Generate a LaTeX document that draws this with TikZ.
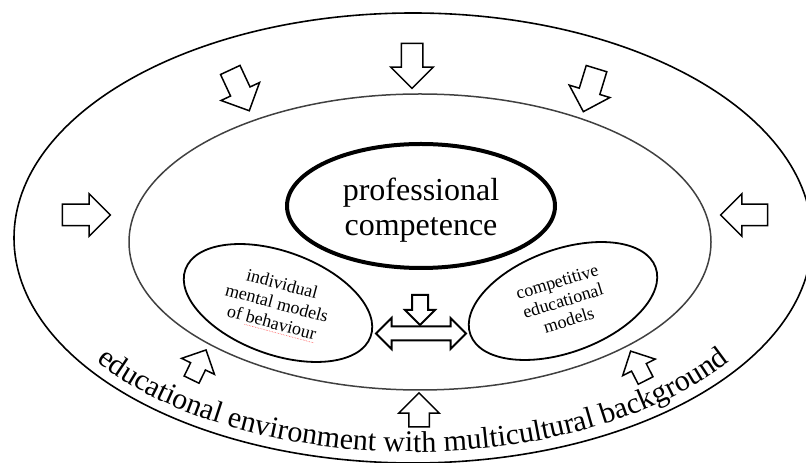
\documentclass[tikz,border=0pt]{standalone}
\usepackage{fontspec}
\setmainfont{Liberation Serif}
\usetikzlibrary{shapes.geometric,shapes.arrows,decorations.text}
\begin{document}
\begin{tikzpicture}[x=1pt,y=1pt,
  ring/.style={draw, ellipse, inner sep=0pt},
  bigarrow/.style={draw=black, line width=1.5pt, fill=white, single arrow, inner xsep=0pt,
    inner ysep=10pt, minimum width=0pt, minimum height=45pt, single arrow head extend=10.5pt},
  smallarrow/.style={bigarrow, minimum height=33pt, inner ysep=7.5pt, single arrow head extend=10pt},
  midarrow/.style={bigarrow, minimum height=34pt, inner ysep=9.5pt, single arrow head extend=10pt},
  smallell/.style={ring, line width=1.8pt, minimum width=197pt, minimum height=103pt},
  smalltext/.style={font=\fontsize{18}{20}\selectfont, align=center, inner sep=0pt},
  curvetext/.style={decorate, decoration={text along path, text align=center,
    text={|\fontsize{30}{30}\selectfont|educational environment with multicultural background}}}
]
\useasboundingbox (0,0) rectangle (806,463);
% rings
\node[ring, line width=1.6pt, minimum width=798pt, minimum height=450pt] (outer) at (413,225) {};
\node[ring, draw=black!75, line width=1.5pt, minimum width=582pt, minimum height=296pt] (inner) at (420,221) {};
% central ellipse
\node[ring, line width=4pt, minimum width=268pt, minimum height=124pt] (prof) at (421,257) {};
\node[font=\fontsize{32}{35}\selectfont, align=center, inner sep=0pt] (proftext) at (421,253) {professional\\competence};
% side ellipses
\node[smallell, rotate=-20] (lell) at (278,160) {};
\node[smalltext, rotate=-15] (ltext) at (277,160) {individual\\mental models\\of behaviour};
\begin{scope}[shift={(ltext.center)}, rotate=-15]
  \draw[red!70, densely dotted, line width=0.6pt] (-26,-29) -- (46,-29);
\end{scope}
\node[smallell, rotate=20] (rell) at (563,162) {};
\node[smalltext, rotate=17] (rtext) at (563,162) {competitive\\educational\\models};
% central arrows
\node[draw, double arrow, line width=2pt, fill=white, inner xsep=0pt, inner ysep=6pt,
  minimum width=0pt, minimum height=90pt, double arrow head extend=8.5pt] (darrow) at (421,129.5) {};
\node[draw, single arrow, line width=2pt, fill=white, inner xsep=0pt, inner ysep=7pt,
  minimum width=0pt, minimum height=30pt, single arrow head extend=7pt, rotate=-90] (darr) at (420,157) {};
% outer arrows
\node[bigarrow, rotate=-90] (atop) at (412,402.5) {};
\node[bigarrow, rotate=-65] (atl) at (237.5,377.5) {};
\node[bigarrow, rotate=-107] (atr) at (591.5,378) {};
\node[bigarrow, minimum height=48pt] (aleft) at (81,248) {};
\node[bigarrow, minimum height=47pt, rotate=180] (aright) at (749.5,248) {};
\node[smallarrow, rotate=64] (abl) at (197,94.5) {};
\node[smallarrow, rotate=117] (abr) at (640,93.5) {};
\node[midarrow, rotate=90] (abot) at (419,48) {};
% curved text
\path[curvetext] (413,225) ++(210:388pt and 214pt)
  arc[start angle=210, end angle=330, x radius=388pt, y radius=214pt];
\end{tikzpicture}
\end{document}
